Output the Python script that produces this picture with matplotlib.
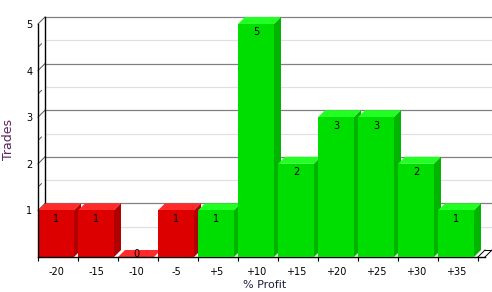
import matplotlib
matplotlib.use('Agg')
import matplotlib.pyplot as plt
from matplotlib.patches import Polygon

# data
categories = ['-20', '-15', '-10', '-5', '+5', '+10', '+15', '+20', '+25', '+30', '+35']
trades = [1, 1, 0, 1, 1, 5, 2, 3, 3, 2, 1]

# 3d look
bar_w = 0.9
dx = 0.175   # depth offset in x units
dy = 0.15    # depth offset in y units
ymax = 5

red = {'front': '#DD0000', 'top': '#FF2A2A', 'side': '#B00000'}
green = {'front': '#00DD00', 'top': '#22FF22', 'side': '#00B400'}

fig = plt.figure(figsize=(4.92, 2.92), dpi=100)
ax = fig.add_axes([38 / 492, 35 / 292, 454 / 492, 240 / 292])
n = len(categories)
xmax = n + 2 * dx
ax.set_xlim(0, xmax)
ax.set_ylim(0, ymax + dy)
for s in ax.spines.values():
    s.set_visible(False)

# back wall gridlines
for k in range(1, ymax + 1):
    ax.plot([dx, xmax], [k + dy, k + dy], color='#808080', lw=0.9, clip_on=False, zorder=1)
    ax.plot([0, dx], [k, k + dy], color='#555555', lw=0.7, clip_on=False, zorder=1)
for k in range(ymax):
    ax.plot([dx, xmax], [k + 0.5 + dy, k + 0.5 + dy], color='#E0E0E0', lw=0.9, zorder=1)
    ax.plot([0, dx * 0.5], [k + 0.5, k + 0.5 + dy * 0.5], color='#555555', lw=0.7, zorder=1)

# axis lines
ax.plot([0, 0], [0, ymax], color='black', lw=1, clip_on=False, zorder=5)
ax.plot([dx, dx], [dy, ymax + dy], color='black', lw=1, clip_on=False, zorder=1)
ax.plot([0, n + dx], [0, 0], color='black', lw=1, clip_on=False, zorder=5)
ax.plot([n, n + dx], [0, dy], color='black', lw=0.7, zorder=1)
ax.plot([n + dx, xmax], [0, dy], color='black', lw=0.7, zorder=1)
ax.plot([n + dx, xmax], [dy, dy], color='black', lw=0.7, zorder=1)

xs = list(range(n))
colors = [red if c.startswith('-') else green for c in categories]

for i, (v, col) in enumerate(zip(trades, colors)):
    z = 2 + i
    top = Polygon([(i, v), (i + bar_w, v), (i + bar_w + dx, v + dy), (i + dx, v + dy)],
                  closed=True, facecolor=col['top'], edgecolor='none', zorder=z)
    ax.add_patch(top)
    if v > 0:
        side = Polygon([(i + bar_w, 0), (i + bar_w + dx, dy), (i + bar_w + dx, v + dy), (i + bar_w, v)],
                       closed=True, facecolor=col['side'], edgecolor='none', zorder=z)
        ax.add_patch(side)
    ax.bar(i, v, width=bar_w, align='edge', color=col['front'], linewidth=0, zorder=z)
    if v > 0:
        ax.annotate(str(v), (i + bar_w / 2, v), xytext=(0, -2.5), textcoords='offset points',
                    ha='center', va='top', fontsize=7, zorder=20)
    else:
        ax.annotate(str(v), (i + bar_w / 2, dy / 2), ha='center', va='center',
                    fontsize=7, zorder=20)

ax.set_xticks([x + bar_w / 2 for x in xs])
ax.set_xticklabels(categories, fontsize=7)
ax.set_xticks(list(range(n + 1)), minor=True)
ax.tick_params(axis='x', which='major', length=0, pad=7)
ax.tick_params(axis='x', which='minor', length=3, width=0.8, direction='out')
ax.set_yticks(range(1, ymax + 1))
ax.set_yticklabels([str(k) for k in range(1, ymax + 1)], fontsize=7)
ax.tick_params(axis='y', length=0, pad=4)

ax.set_xlabel('% Profit', fontsize=8, color='#202040', labelpad=2)
fig.text(8 / 492, 1 - 140 / 292, 'Trades', rotation=90, fontsize=9, color='#602060',
         ha='center', va='center')

fig.savefig('out.png', dpi=100)
